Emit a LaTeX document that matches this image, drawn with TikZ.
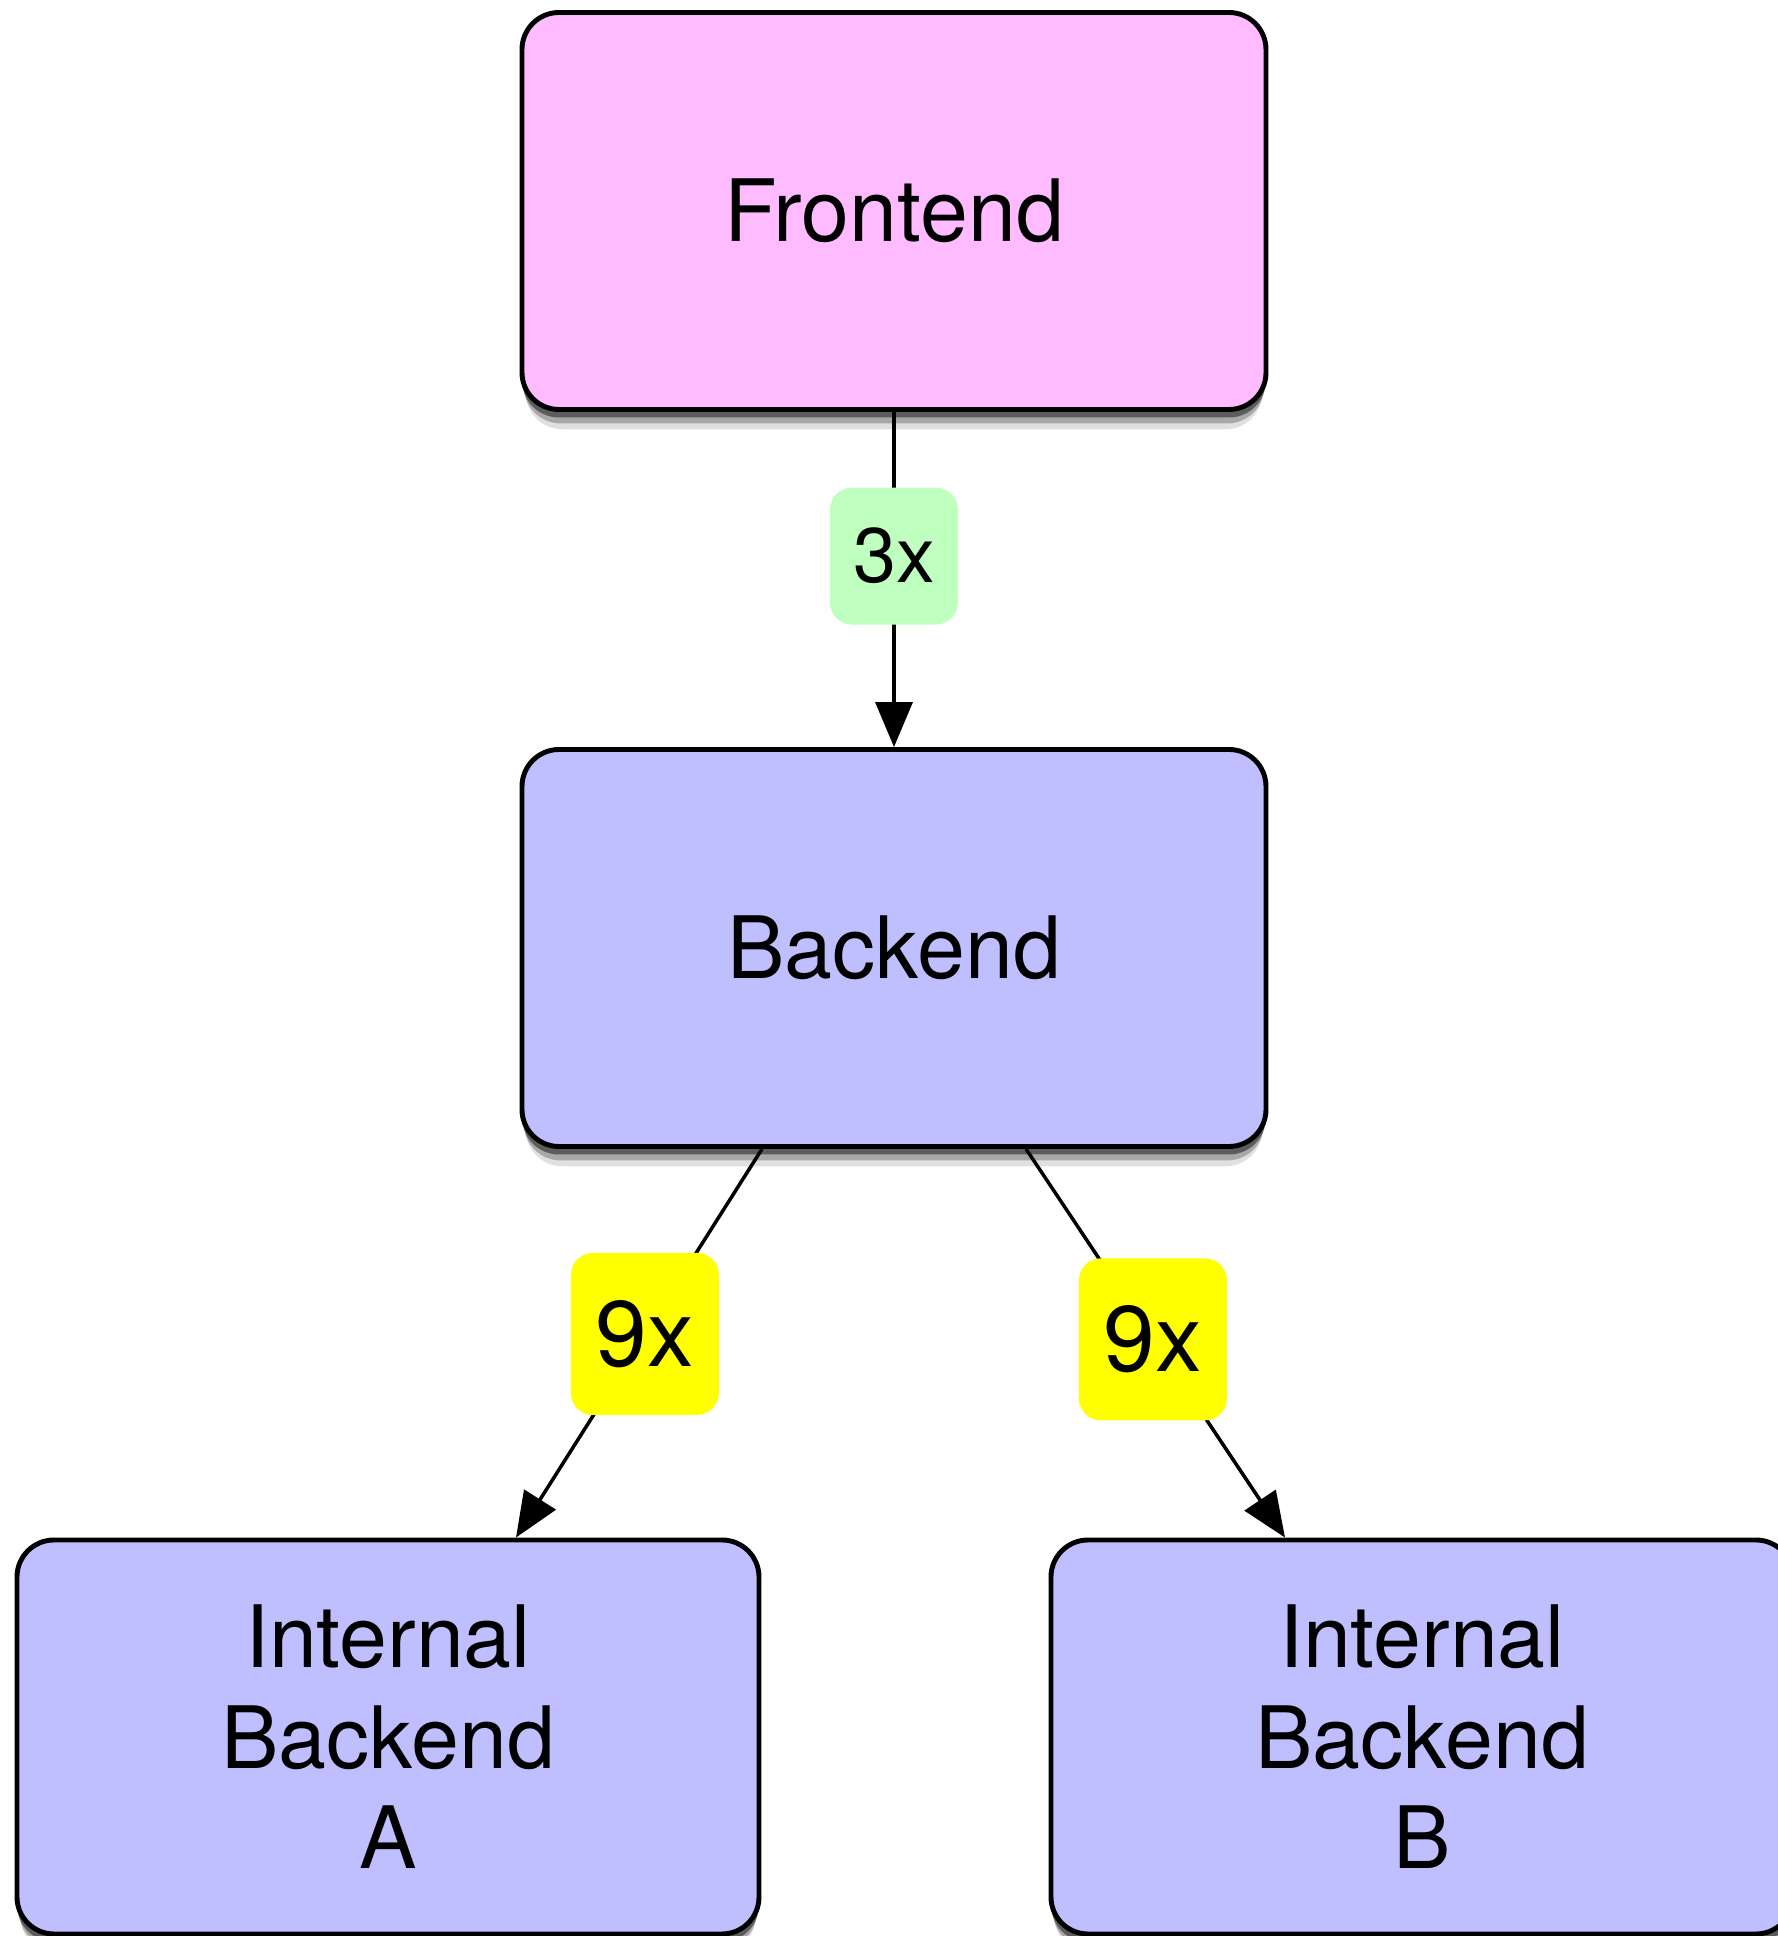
\documentclass[tikz,border=0pt]{standalone}
\usepackage{fontspec}
\setmainfont{TeX Gyre Heros}
\usetikzlibrary{shapes.geometric,arrows.meta,shadows}
\definecolor{frontpink}{RGB}{255,187,255}
\definecolor{backblue}{RGB}{191,191,255}
\definecolor{mintgreen}{RGB}{191,255,191}
\definecolor{tagyellow}{RGB}{255,255,0}
\tikzset{
	softshadow/.style={
		drop shadow={shadow xshift=0cm,shadow yshift=-0.22cm,shadow scale=0.99,opacity=0.12,fill=black},
		drop shadow={shadow xshift=0cm,shadow yshift=-0.15cm,shadow scale=0.995,opacity=0.25,fill=black},
		drop shadow={shadow xshift=0cm,shadow yshift=-0.08cm,opacity=0.45,fill=black}},
	srv/.style={rectangle,rounded corners=0.37cm,draw=black,line width=1.4pt,minimum width=7.44cm,minimum height=3.97cm,inner sep=0pt,align=center,font=\fontsize{24.5}{28.6}\selectfont,softshadow},
	mult/.style={rectangle,rounded corners=0.22cm,draw=none,inner sep=0pt},
	conn/.style={draw=black,line width=1pt,-{Triangle[length=0.45cm,width=0.37cm]}}
}

\begin{document}
\begin{tikzpicture}
	\useasboundingbox (0,0) rectangle (17.78,19.36);
	
	\node[srv,fill=frontpink] (front) at (8.94,17.25) {Frontend};
	\node[srv,fill=backblue] (back) at (8.94,9.88) {Backend};
	
	\node[srv,fill=backblue,minimum width=7.42cm,minimum height=3.94cm] (intA) at (3.88,1.99) {Internal\\Backend\\A};
	\node[srv,fill=backblue,minimum width=7.42cm,minimum height=3.94cm] (intB) at (14.22,1.99) {Internal\\Backend\\B};
	
	% replication factors
	\draw[conn] (front.south) -- node[mult,pos=0.43,fill=mintgreen,minimum width=1.28cm,minimum height=1.37cm,font=\fontsize{22}{26}\selectfont] (lab3) {3x} (back.north);
	\draw[conn] ([xshift=-1.32cm]back.south) -- node[mult,pos=0.476,fill=tagyellow,minimum width=1.48cm,minimum height=1.62cm,font=\fontsize{26.5}{30}\selectfont] (lab9a) {9x} ([xshift=1.28cm]intA.north);
	\draw[conn] ([xshift=1.32cm]back.south) -- node[mult,pos=0.49,fill=tagyellow,minimum width=1.48cm,minimum height=1.62cm,font=\fontsize{26.5}{30}\selectfont] (lab9b) {9x} ([xshift=-1.37cm]intB.north);
	
\end{tikzpicture}
\end{document}
